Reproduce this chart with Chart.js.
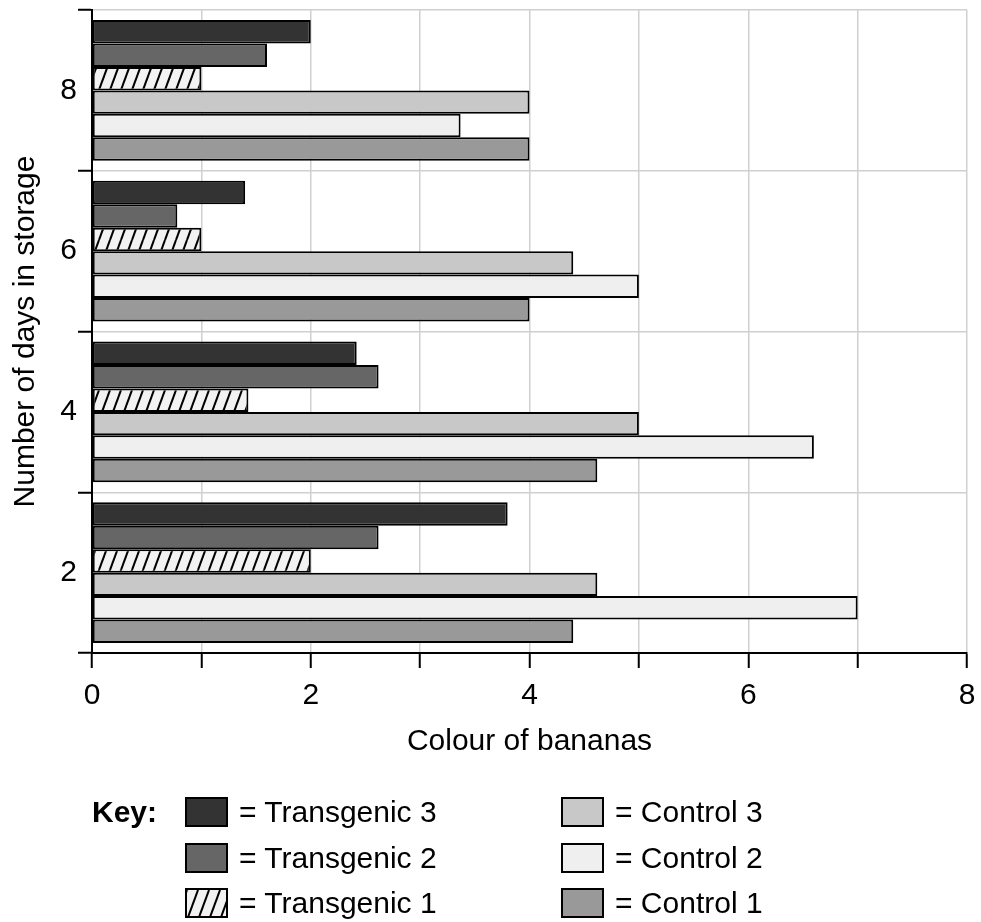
<!DOCTYPE html>
<html>
<head>
<meta charset="utf-8">
<script src="https://cdn.jsdelivr.net/npm/chart.js@4"></script>
<style>
  body { margin: 0; background: #fff; font-family: 'Liberation Sans', Arial, sans-serif; }
  #wrap { position: relative; width: 981px; height: 922px; }
  #wrap canvas { position: absolute; left: 0; top: 0; }
  .sw { position: absolute; width: 39px; height: 26px; border: 2px solid #000; }
  .lb { position: absolute; font-size: 30px; line-height: 34px; height: 34px; color: #000; white-space: nowrap; }
</style>
</head>
<body>
<div id="wrap">
  <canvas id="grafico" width="981" height="922"></canvas>
  <div class="lb" style="left:92px; top:795px; font-weight:bold;">Key:</div>
</div>
<script>
// Dados
var dias = ['8', '6', '4', '2'];
var transgenico3 = [2.0, 1.4, 2.42, 3.8];
var transgenico2 = [1.6, 0.78, 2.62, 2.62];
var transgenico1 = [1.0, 1.0, 1.43, 2.0];
var controle3 = [4.0, 4.4, 5.0, 4.62];
var controle2 = [3.37, 5.0, 6.6, 7.0];
var controle1 = [4.0, 4.0, 4.62, 4.4];
var ticksX = [0, 2, 4, 6, 8];

// Padrão hachurado para Transgenic 1
function criarHachura() {
    var c = document.createElement('canvas');
    c.width = 11;
    c.height = 30;
    var g = c.getContext('2d');
    g.fillStyle = '#f2f2f2';
    g.fillRect(0, 0, 11, 30);
    g.strokeStyle = '#000';
    g.lineWidth = 2;
    [-11, 0, 11].forEach(dx => {
        g.beginPath();
        g.moveTo(dx, 30);
        g.lineTo(dx + 11, 0);
        g.stroke();
    });
    return c;
}
var hachuraCanvas = criarHachura();
var hachura = document.getElementById('grafico').getContext('2d').createPattern(hachuraCanvas, 'repeat');

var series = [
    { label: 'Transgenic 3', data: transgenico3, cor: '#333333' },
    { label: 'Transgenic 2', data: transgenico2, cor: '#666666' },
    { label: 'Transgenic 1', data: transgenico1, cor: hachura },
    { label: 'Control 3', data: controle3, cor: '#c8c8c8' },
    { label: 'Control 2', data: controle2, cor: '#efefef' },
    { label: 'Control 1', data: controle1, cor: '#999999' }
];

Chart.defaults.font.family = "'Liberation Sans', Arial, sans-serif";
Chart.defaults.color = '#000';

var ctx = document.getElementById('grafico').getContext('2d');
var grafico = new Chart(ctx, {
    type: 'bar',
    data: {
        labels: dias,
        datasets: series.map(s => ({
            label: s.label,
            data: s.data,
            backgroundColor: s.cor,
            borderColor: '#000',
            borderWidth: 2,
            borderSkipped: false,
            categoryPercentage: 0.875,
            barPercentage: 1.0
        }))
    },
    options: {
        indexAxis: 'y',
        responsive: false,
        animation: false,
        layout: { padding: { left: 8, top: 10, right: 14, bottom: 162 } },
        plugins: { legend: { display: false }, tooltip: { enabled: false } },
        scales: {
            x: {
                min: 0,
                max: 8,
                ticks: {
                    stepSize: 1,
                    autoSkip: false,
                    maxRotation: 0,
                    font: { size: 30 },
                    padding: 10,
                    callback: v => ticksX.includes(v) ? String(v) : ''
                },
                grid: { color: '#d0d0d0', lineWidth: 1.5, tickColor: '#000', tickLength: 15, tickWidth: 2 },
                border: { color: '#000', width: 2 },
                title: { display: true, text: 'Colour of bananas', font: { size: 30 }, padding: 0 },
                afterFit: s => { s.height = 107; s.paddingLeft = 0; s.paddingRight = 0; }
            },
            y: {
                ticks: { font: { size: 30 }, padding: 1 },
                grid: { color: '#d0d0d0', lineWidth: 1.5, tickColor: '#000', tickLength: 14, tickWidth: 2, offset: true },
                border: { color: '#000', width: 2 },
                title: { display: true, text: 'Number of days in storage', font: { size: 30 }, padding: 0 },
                afterFit: s => { s.width = 84; s.paddingTop = 0; s.paddingBottom = 0; }
            }
        }
    }
});

// Legenda ("Key") em HTML
var wrap = document.getElementById('wrap');
var linhas = [812, 858, 903];
series.forEach((s, i) => {
    var col = i < 3 ? 0 : 1;
    var cy = linhas[i % 3];
    var sw = document.createElement('div');
    sw.className = 'sw';
    sw.style.left = (col ? 561 : 185) + 'px';
    sw.style.top = (cy - 15) + 'px';
    if (s.cor === hachura) {
        sw.style.backgroundImage = 'url(' + hachuraCanvas.toDataURL() + ')';
    } else {
        sw.style.background = s.cor;
    }
    wrap.appendChild(sw);
    var lb = document.createElement('div');
    lb.className = 'lb';
    lb.style.left = (col ? 615 : 239) + 'px';
    lb.style.top = (cy - 17) + 'px';
    lb.textContent = '= ' + s.label;
    wrap.appendChild(lb);
});
</script>
</body>
</html>
